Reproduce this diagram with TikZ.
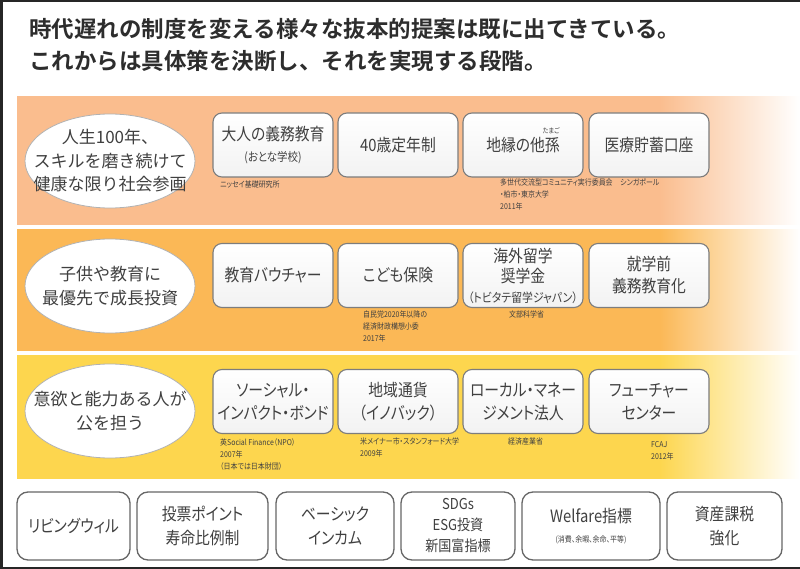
\documentclass[tikz,border=0pt]{standalone}
\usepackage{fontspec}
\setmainfont{Noto Sans CJK JP}[RawFeature=+palt, FakeStretch=0.87]
\newfontfamily\titlefont{Noto Sans CJK JP Bold}
\newfontfamily\ellfont{Noto Sans CJK JP}
\usetikzlibrary{shapes.geometric,calc}
\definecolor{bandA}{RGB}{250,189,142}
\definecolor{bandB}{RGB}{251,184,86}
\definecolor{bandC}{RGB}{253,214,78}
\definecolor{txt}{RGB}{64,64,64}
\definecolor{ttl}{RGB}{45,45,45}
\definecolor{boxline}{RGB}{125,125,125}
\pgfdeclarehorizontalshading{bandAsh}{100bp}{color(0bp)=(bandA); color(66bp)=(bandA); color(75bp)=(white); color(100bp)=(white)}
\pgfdeclarehorizontalshading{bandBsh}{100bp}{color(0bp)=(bandB); color(66bp)=(bandB); color(75bp)=(white); color(100bp)=(white)}
\pgfdeclarehorizontalshading{bandCsh}{100bp}{color(0bp)=(bandC); color(66bp)=(bandC); color(75bp)=(white); color(100bp)=(white)}
\tikzset{
  ell/.style={ellipse, draw=gray!60, line width=0.8pt, fill=white, minimum width=170pt, minimum height=94pt, inner sep=0pt},
  etext/.style={inner sep=0pt, align=center, text=txt, font=\ellfont\fontsize{17}{23.5}\selectfont},
  card/.style={rounded corners=9pt, draw=boxline, line width=1.1pt, top color=white, bottom color=black!5, minimum width=120pt, minimum height=64pt, inner sep=0pt, align=center, text=txt, font=\fontsize{17}{23}\selectfont},
  bcard/.style={rounded corners=11pt, draw=black!60, line width=1.3pt, fill=white, minimum height=68pt, inner sep=0pt, align=center, text=txt, font=\fontsize{17}{24}\selectfont},
  note/.style={anchor=north west, inner sep=0pt, align=left, text=txt, font=\fontsize{8}{12}\selectfont},
  ttlnode/.style={anchor=north west, inner sep=0pt, align=left, text=ttl, font=\titlefont\fontsize{22.5}{32.5}\selectfont}
}
\begin{document}
\begin{tikzpicture}[x=1pt,y=-1pt]
\useasboundingbox (0,0) rectangle (800,569);
\fill[white] (0,0) rectangle (800,569);
% title
\node[ttlnode] (title) at (29,18) {時代遅れの制度を変える様々な抜本的提案は既に出てきている。\\これからは具体策を決断し、それを実現する段階。};
% bands
\fill[shading=bandAsh] (17,97) rectangle (800,225);
\fill[shading=bandBsh] (17,230) rectangle (800,350);
\fill[shading=bandCsh] (17,355) rectangle (800,478);
% ellipses
\node[ell] (e1) at (110,161) {};
\node[etext] (t1) at (e1) {人生100年、\\スキルを磨き続けて\\健康な限り社会参画};
\node[ell] (e2) at (110,286) {};
\node[etext] (t2) at (e2) {子供や教育に\\最優先で成長投資};
\node[ell] (e3) at (110,411) {};
\node[etext] (t3) at (e3) {意欲と能力ある人が\\公を担う};
% row 1
\node[card] (b11) at (273,145) {大人の義務教育\\[-2pt]{\fontsize{12}{14}\selectfont (おとな学校)}};
\node[card] (b12) at (398,145) {40歳定年制};
\node[card] (b13) at (523,145) {地縁の他孫\llap{\smash{\raisebox{1.05em}{\makebox[1em]{\fontsize{7}{7}\selectfont たまご}}}}};
\node[card] (b14) at (649,145) {医療貯蓄口座};
\node[note] (n11) at (220,181) {ニッセイ基礎研究所};
\node[note] (n13) at (500,179) {多世代交流型コミュニティ実行委員会\\・柏市・東京大学\\2011年};
\node[note] (n14) at (620,179) {シンガポール};
% row 2
\node[card] (b21) at (273,275.5) {教育バウチャー};
\node[card] (b22) at (398,275.5) {こども保険};
\node[card, font=\fontsize{17}{20}\selectfont] (b23) at (523,275.5) {海外留学\\奨学金\\{\fontsize{12.5}{20}\selectfont （トビタテ留学ジャパン）}};
\node[card, font=\fontsize{17}{22}\selectfont] (b24) at (649,275.5) {就学前\\義務教育化};
\node[note] (n22) at (363,311) {自民党2020年以降の\\経済財政構想小委\\2017年};
\node[note] (n23) at (509,311) {文部科学省};
% row 3
\node[card] (b31) at (273,401.5) {ソーシャル・\\インパクト・ボンド};
\node[card] (b32) at (398,401.5) {地域通貨\\（イノバック）};
\node[card] (b33) at (523,401.5) {ローカル・マネー\\ジメント法人};
\node[card] (b34) at (649,401.5) {フューチャー\\センター};
\node[note] (n31) at (220,438) {英Social Finance（NPO）\\2007年\\（日本では日本財団）};
\node[note] (n32) at (360,438) {米メイナー市・スタンフォード大学\\2009年};
\node[note] (n33) at (508,438) {経済産業省};
\node[note] (n34) at (651,441) {FCAJ\\2012年};
% bottom row
\node[bcard, minimum width=113pt] (c1) at (73.5,526) {リビングウィル};
\node[bcard, minimum width=131pt] (c2) at (202.5,526) {投票ポイント\\寿命比例制};
\node[bcard, minimum width=118pt] (c3) at (335,526) {ベーシック\\インカム};
\node[bcard, minimum width=114pt, font=\fontsize{15}{21}\selectfont] (c4) at (458,526) {SDGs\\ESG投資\\新国富指標};
\node[bcard, minimum width=138pt] (c5) at (591,526) {Welfare指標\\[-4pt]{\fontsize{8}{12}\selectfont (消費、余暇、余命、平等)}};
\node[bcard, minimum width=115pt] (c6) at (724.5,526) {資産課税\\強化};
% frame
\draw[line width=2.5pt, color=black!85] (800,1.25) -- (1.25,1.25) -- (1.25,567.75) -- (800,567.75);
\end{tikzpicture}
\end{document}
